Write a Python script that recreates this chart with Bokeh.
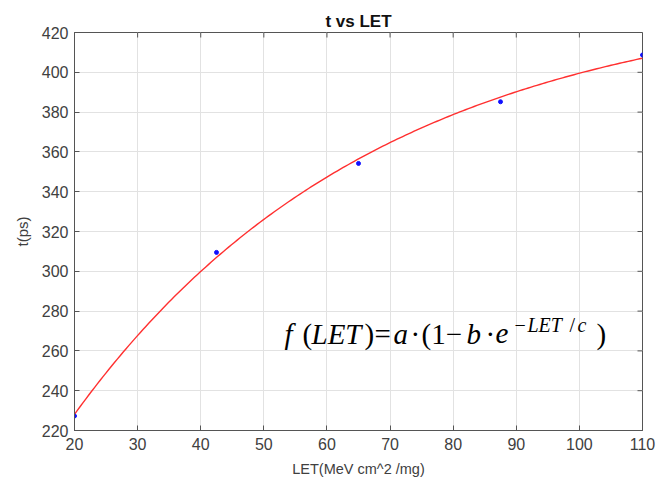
import numpy as np
from bokeh.plotting import figure
from bokeh.models import Range1d, FixedTicker, Label, Title
from bokeh.embed import file_html
from bokeh.resources import INLINE

# Measured data: LET (MeV cm^2/mg) vs t (ps)
let_values = [20, 42.5, 65, 87.5, 110]
t_values = [227.3, 309.5, 354.2, 385.2, 408.7]

# Fitted model f(LET) = a * (1 - b * exp(-LET / c))
fit_a = 440.1
fit_b = 0.728
fit_c = 48.4

x_ticks = [20, 30, 40, 50, 60, 70, 80, 90, 100, 110]
y_ticks = [220, 240, 260, 280, 300, 320, 340, 360, 380, 400, 420]

X0, X1 = 20, 110
Y0, Y1 = 220, 420
FRAME_W, FRAME_H = 568, 398

let_curve = np.linspace(let_values[0], let_values[-1], 200)
t_curve = fit_a * (1 - fit_b * np.exp(-let_curve / fit_c))

TICK_COLOR = "#404040"
AXIS_COLOR = "#555555"
FONT = "Liberation Sans"

p = figure(width=657, height=481, output_backend="svg", toolbar_location=None,
           x_range=Range1d(X0, X1), y_range=Range1d(Y0, Y1),
           min_border_left=74, min_border_right=15, min_border_top=32,
           min_border_bottom=51, background_fill_color="white",
           border_fill_color="white")

p.title = Title(text="t vs LET", align="center", text_font=FONT,
                text_font_size="17px", text_font_style="bold",
                text_color="#111111", offset=0, standoff=3)

p.outline_line_color = AXIS_COLOR
p.outline_line_width = 1

for ax in (p.xaxis[0], p.yaxis[0]):
    ax.major_tick_in = 5
    ax.major_tick_out = 0
    ax.minor_tick_line_color = None
    ax.axis_line_color = AXIS_COLOR
    ax.major_tick_line_color = AXIS_COLOR
    ax.major_label_text_font = FONT
    ax.major_label_text_font_size = "16px"
    ax.major_label_text_color = TICK_COLOR
    ax.axis_label_text_font = FONT
    ax.axis_label_text_font_style = "normal"
    ax.axis_label_text_color = TICK_COLOR

p.xaxis[0].ticker = FixedTicker(ticks=x_ticks)
p.yaxis[0].ticker = FixedTicker(ticks=y_ticks)
p.xaxis[0].axis_label = "LET(MeV cm^2 /mg)"
p.yaxis[0].axis_label = "t(ps)"
p.xaxis[0].axis_label_text_font_size = "14.5px"
p.yaxis[0].axis_label_text_font_size = "15px"
p.xaxis[0].major_label_standoff = 7
p.xaxis[0].axis_label_standoff = 8
p.yaxis[0].major_label_standoff = 6
p.yaxis[0].axis_label_standoff = 8

# Inward box ticks along the top and right edges (5 px long)
dy_tick = 5 * (Y1 - Y0) / FRAME_H
dx_tick = 5 * (X1 - X0) / FRAME_W
p.segment(x0=x_ticks, y0=[Y1] * len(x_ticks), x1=x_ticks,
          y1=[Y1 - dy_tick] * len(x_ticks), line_color=AXIS_COLOR, line_width=1)
p.segment(x0=[X1] * len(y_ticks), y0=y_ticks, x1=[X1 - dx_tick] * len(y_ticks),
          y1=y_ticks, line_color=AXIS_COLOR, line_width=1)

p.xgrid.ticker = FixedTicker(ticks=x_ticks)
p.ygrid.ticker = FixedTicker(ticks=y_ticks)
for g in (p.xgrid[0], p.ygrid[0]):
    g.grid_line_color = "#e2e2e2"
    g.grid_line_width = 1

p.line(let_curve, t_curve, line_color="#ff3030", line_width=1.4)
p.scatter(let_values, t_values, size=4, fill_color="#1010ff",
          line_color="#1010ff")


# Formula annotation, placed piece by piece from pixel offsets in the canvas
def px_to_x(px):
    return X0 + (px - 74) * (X1 - X0) / FRAME_W


def py_to_y(py):
    return Y1 - (py - 32) * (Y1 - Y0) / FRAME_H


MAIN = "29px"
SUP = "20px"
pieces = [
    ("f", 284, 333, "italic", MAIN),
    ("(", 302, 333, "normal", MAIN),
    ("LET", 311, 333, "italic", MAIN),
    (")", 364, 333, "normal", MAIN),
    ("=", 374, 333, "normal", MAIN),
    ("a", 393, 333, "italic", MAIN),
    ("\u00b7", 410, 333, "normal", MAIN),
    ("(1\u2212", 421, 333, "normal", MAIN),
    ("b", 466, 333, "italic", MAIN),
    ("\u00b7", 485, 333, "normal", MAIN),
    ("e", 495, 333, "italic", MAIN),
    ("\u2212", 514, 324, "normal", SUP),
    ("LET", 527, 324, "italic", SUP),
    ("/", 569, 324, "normal", SUP),
    ("c", 577, 324, "italic", SUP),
    (")", 596, 333, "normal", MAIN),
]
for txt, px, py, style, size in pieces:
    p.add_layout(Label(x=px_to_x(px), y=py_to_y(py), text=txt,
                       text_font="Liberation Serif", text_font_style=style,
                       text_font_size=size, text_color="black",
                       text_align="left", text_baseline="alphabetic"))

open("out.html", "w").write(file_html(p, INLINE))
